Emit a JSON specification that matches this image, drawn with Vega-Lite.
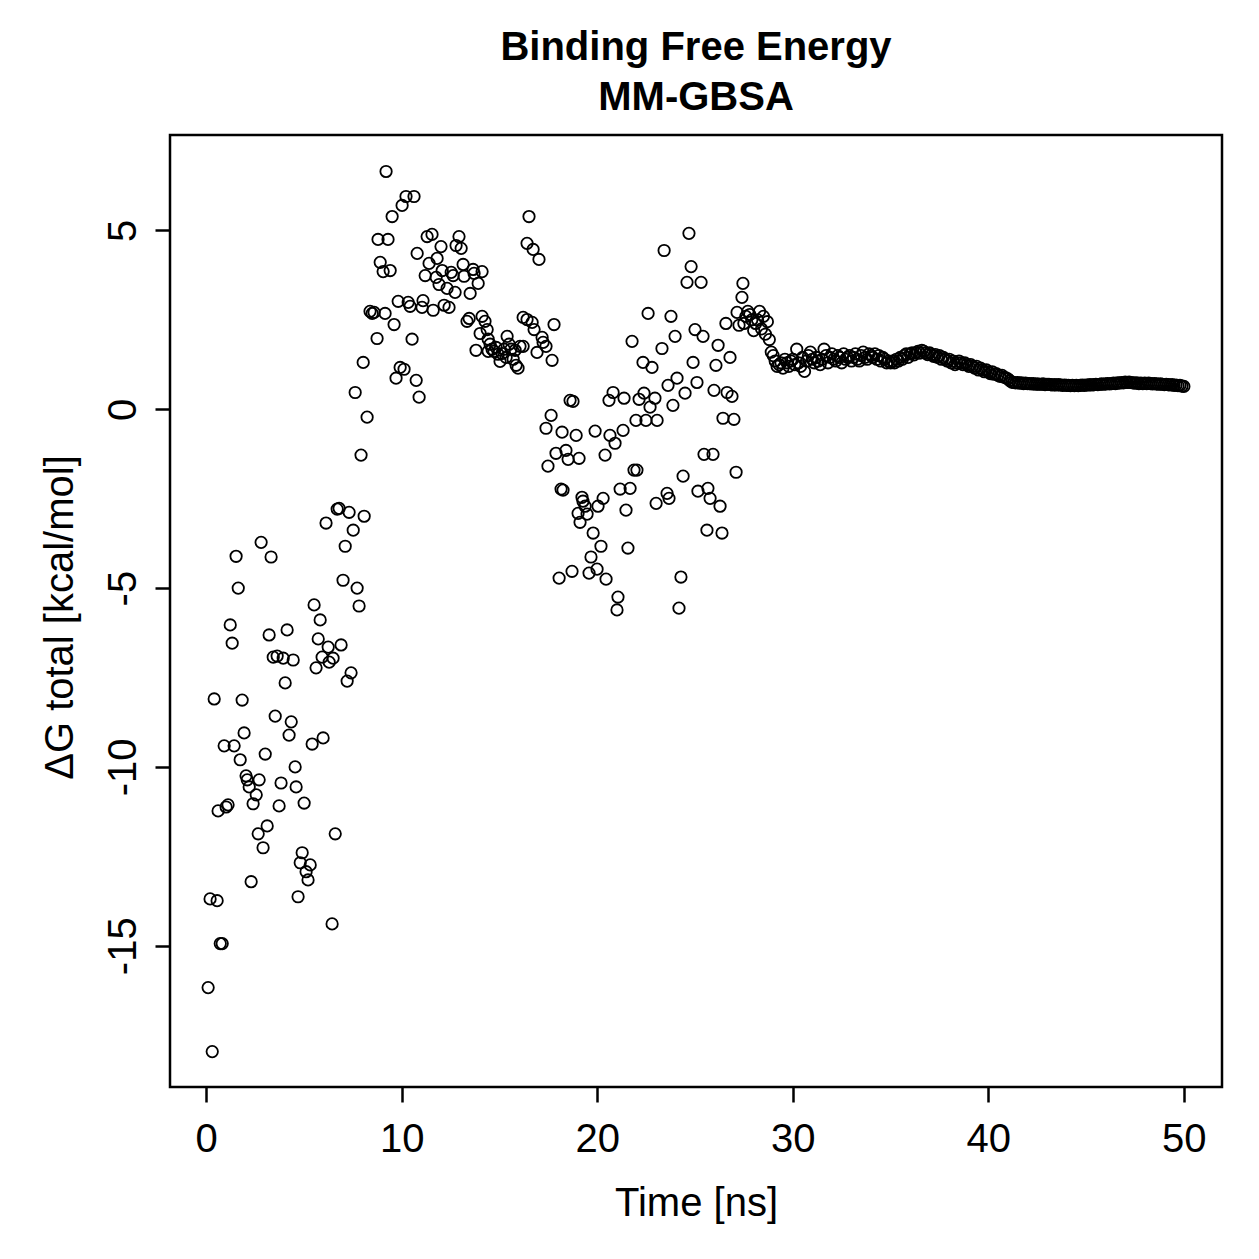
{
  "$schema": "https://vega.github.io/schema/vega-lite/v6.json",
  "width": 1052,
  "height": 952,
  "autosize": {"type": "none"},
  "padding": {"left": 170, "top": 135, "right": 37, "bottom": 172},
  "background": "white",
  "title": {
    "text": ["Binding Free Energy", "MM-GBSA"],
    "font": "Liberation Sans",
    "fontSize": 40,
    "fontWeight": "bold",
    "lineHeight": 50,
    "anchor": "middle",
    "color": "black",
    "offset": 17
  },
  "config": {
    "view": {"stroke": "black", "strokeWidth": 2.5},
    "axis": {
      "domain": false,
      "grid": false,
      "ticks": true,
      "tickColor": "black",
      "tickWidth": 2.5,
      "tickSize": 15,
      "labelFont": "Liberation Sans",
      "labelFontSize": 40,
      "labelColor": "black",
      "titleFont": "Liberation Sans",
      "titleFontSize": 40,
      "titleFontWeight": "normal",
      "titleColor": "black"
    }
  },
  "data": {
    "values": [
      {"t":0.10,"g":-16.17},{"t":0.31,"g":-17.96},{"t":0.20,"g":-13.69},{"t":0.56,"g":-13.74},{"t":0.41,"g":-8.10},
      {"t":0.61,"g":-11.23},{"t":0.72,"g":-14.94},{"t":0.82,"g":-14.94},{"t":0.92,"g":-9.41},{"t":1.02,"g":-11.12},
      {"t":1.12,"g":-11.06},{"t":1.23,"g":-6.03},{"t":1.33,"g":-6.54},{"t":1.43,"g":-9.41},{"t":1.53,"g":-4.11},
      {"t":1.64,"g":-5.00},{"t":1.74,"g":-9.80},{"t":1.84,"g":-8.13},{"t":1.94,"g":-9.05},{"t":2.04,"g":-10.25},
      {"t":2.10,"g":-10.36},{"t":2.20,"g":-10.56},{"t":2.56,"g":-10.78},{"t":2.40,"g":-11.03},{"t":2.71,"g":-10.36},
      {"t":2.30,"g":-13.21},{"t":2.66,"g":-11.87},{"t":2.81,"g":-3.72},{"t":2.91,"g":-12.26},{"t":3.02,"g":-9.64},
      {"t":3.12,"g":-11.65},{"t":3.22,"g":-6.31},{"t":3.32,"g":-4.13},{"t":3.43,"g":-6.93},{"t":3.53,"g":-8.58},
      {"t":3.63,"g":-6.90},{"t":3.73,"g":-11.09},{"t":3.83,"g":-10.45},{"t":3.94,"g":-6.96},{"t":4.04,"g":-7.65},
      {"t":4.14,"g":-6.17},{"t":4.24,"g":-9.11},{"t":4.35,"g":-8.74},{"t":4.45,"g":-7.01},{"t":4.55,"g":-10.00},
      {"t":4.60,"g":-10.56},{"t":4.70,"g":-13.63},{"t":4.81,"g":-12.68},{"t":4.91,"g":-12.40},{"t":5.01,"g":-11.01},
      {"t":5.11,"g":-12.93},{"t":5.21,"g":-13.16},{"t":5.32,"g":-12.74},{"t":5.42,"g":-9.36},{"t":5.52,"g":-5.47},
      {"t":5.62,"g":-7.23},{"t":5.73,"g":-6.42},{"t":5.83,"g":-5.89},{"t":5.93,"g":-6.93},{"t":5.98,"g":-9.19},
      {"t":6.13,"g":-3.18},{"t":6.24,"g":-6.65},{"t":6.29,"g":-7.07},{"t":6.44,"g":-14.39},{"t":6.49,"g":-6.96},
      {"t":6.60,"g":-11.87},{"t":6.70,"g":-2.79},{"t":6.80,"g":-2.77},{"t":6.90,"g":-6.59},{"t":7.00,"g":-4.78},
      {"t":7.11,"g":-3.83},{"t":7.21,"g":-7.60},{"t":7.31,"g":-2.88},{"t":7.41,"g":-7.37},{"t":7.52,"g":-3.38},
      {"t":7.62,"g":0.47},{"t":7.72,"g":-5.00},{"t":7.82,"g":-5.50},{"t":7.92,"g":-1.28},{"t":8.03,"g":1.31},
      {"t":8.08,"g":-2.99},{"t":8.23,"g":-0.22},{"t":8.38,"g":2.74},{"t":8.49,"g":2.68},{"t":8.59,"g":2.71},
      {"t":8.74,"g":1.98},{"t":8.79,"g":4.75},{"t":8.90,"g":4.11},{"t":9.05,"g":3.85},{"t":9.15,"g":2.68},
      {"t":9.20,"g":6.65},{"t":9.30,"g":4.75},{"t":9.41,"g":3.88},{"t":9.51,"g":5.39},{"t":9.61,"g":2.37},
      {"t":9.71,"g":0.87},{"t":9.82,"g":3.02},{"t":9.92,"g":1.17},{"t":10.02,"g":5.70},{"t":10.12,"g":1.12},
      {"t":10.22,"g":5.95},{"t":10.33,"g":2.99},{"t":10.43,"g":2.88},{"t":10.53,"g":1.96},{"t":10.63,"g":5.95},
      {"t":10.74,"g":0.81},{"t":10.79,"g":4.36},{"t":10.89,"g":0.34},{"t":11.04,"g":2.85},{"t":11.09,"g":3.04},
      {"t":11.20,"g":3.74},{"t":11.30,"g":4.83},{"t":11.40,"g":4.08},{"t":11.55,"g":4.89},{"t":11.61,"g":2.77},
      {"t":11.76,"g":3.69},{"t":11.81,"g":4.22},{"t":11.91,"g":3.49},{"t":12.01,"g":4.55},{"t":12.07,"g":3.88},
      {"t":12.17,"g":2.91},{"t":12.32,"g":3.38},{"t":12.42,"g":2.85},{"t":12.53,"g":3.83},{"t":12.63,"g":3.74},
      {"t":12.73,"g":3.27},{"t":12.78,"g":4.58},{"t":12.93,"g":4.83},{"t":13.04,"g":4.50},{"t":13.14,"g":4.05},
      {"t":13.19,"g":3.72},{"t":13.34,"g":2.46},{"t":13.45,"g":2.54},{"t":13.50,"g":3.24},{"t":13.65,"g":3.91},
      {"t":13.70,"g":3.80},{"t":13.80,"g":1.65},{"t":13.91,"g":3.52},{"t":14.01,"g":2.12},{"t":14.11,"g":3.85},
      {"t":14.11,"g":2.60},{"t":14.26,"g":2.46},{"t":14.37,"g":2.23},{"t":14.42,"g":1.96},{"t":14.42,"g":1.62},
      {"t":14.52,"g":1.82},{"t":14.62,"g":1.68},{"t":14.72,"g":1.62},{"t":14.83,"g":1.73},{"t":14.93,"g":1.54},
      {"t":15.03,"g":1.34},{"t":15.13,"g":1.56},{"t":15.24,"g":1.68},{"t":15.34,"g":1.45},{"t":15.39,"g":2.04},
      {"t":15.49,"g":1.82},{"t":15.59,"g":1.68},{"t":15.70,"g":1.40},{"t":15.80,"g":1.65},{"t":15.85,"g":1.23},
      {"t":15.95,"g":1.15},{"t":16.05,"g":1.76},{"t":16.21,"g":2.57},{"t":16.21,"g":1.76},{"t":16.41,"g":2.51},
      {"t":16.41,"g":4.64},{"t":16.51,"g":5.39},{"t":16.67,"g":2.43},{"t":16.72,"g":4.47},{"t":16.77,"g":2.23},
      {"t":16.92,"g":1.59},{"t":17.02,"g":4.19},{"t":17.18,"g":2.01},{"t":17.23,"g":1.87},{"t":17.38,"g":1.76},
      {"t":17.38,"g":-0.53},{"t":17.48,"g":-1.59},{"t":17.64,"g":-0.17},{"t":17.69,"g":1.37},{"t":17.79,"g":2.37},
      {"t":17.89,"g":-1.23},{"t":18.05,"g":-4.72},{"t":18.15,"g":-2.23},{"t":18.20,"g":-0.64},{"t":18.25,"g":-2.26},
      {"t":18.40,"g":-1.15},{"t":18.51,"g":-1.40},{"t":18.61,"g":0.25},{"t":18.71,"g":-4.53},{"t":18.76,"g":0.22},
      {"t":18.92,"g":-0.73},{"t":19.02,"g":-2.91},{"t":19.07,"g":-1.37},{"t":19.12,"g":-3.16},{"t":19.22,"g":-2.46},
      {"t":19.27,"g":-2.57},{"t":19.38,"g":-2.71},{"t":19.48,"g":-2.93},{"t":19.58,"g":-4.58},{"t":19.68,"g":-4.13},
      {"t":19.79,"g":-3.46},{"t":19.89,"g":-0.61},{"t":19.99,"g":-4.47},{"t":20.04,"g":-2.71},{"t":20.19,"g":-3.83},
      {"t":20.30,"g":-2.49},{"t":20.40,"g":-1.28},{"t":20.45,"g":-4.75},{"t":20.60,"g":0.25},{"t":20.65,"g":-0.73},
      {"t":20.81,"g":0.47},{"t":20.91,"g":-0.95},{"t":21.01,"g":-5.61},{"t":21.06,"g":-5.25},{"t":21.17,"g":-2.23},
      {"t":21.32,"g":-0.59},{"t":21.37,"g":0.31},{"t":21.47,"g":-2.82},{"t":21.57,"g":-3.88},{"t":21.68,"g":-2.21},
      {"t":21.78,"g":1.90},{"t":21.88,"g":-1.70},{"t":21.98,"g":-0.31},{"t":22.03,"g":-1.70},{"t":22.14,"g":0.28},
      {"t":22.34,"g":1.31},{"t":22.39,"g":0.45},{"t":22.49,"g":-0.31},{"t":22.60,"g":2.68},{"t":22.70,"g":0.06},
      {"t":22.80,"g":1.17},{"t":22.95,"g":0.31},{"t":23.01,"g":-2.63},{"t":23.06,"g":-0.31},{"t":23.31,"g":1.70},
      {"t":23.42,"g":4.44},{"t":23.57,"g":-2.35},{"t":23.62,"g":0.67},{"t":23.67,"g":-2.49},{"t":23.77,"g":2.60},
      {"t":23.87,"g":0.11},{"t":23.98,"g":2.04},{"t":24.08,"g":0.87},{"t":24.18,"g":-5.56},{"t":24.28,"g":-4.69},
      {"t":24.39,"g":-1.87},{"t":24.49,"g":0.45},{"t":24.59,"g":3.55},{"t":24.69,"g":4.92},{"t":24.80,"g":3.99},
      {"t":24.90,"g":1.31},{"t":25.00,"g":2.23},{"t":25.10,"g":0.75},{"t":25.15,"g":-2.29},{"t":25.31,"g":3.55},
      {"t":25.41,"g":2.04},{"t":25.46,"g":-1.26},{"t":25.61,"g":-3.38},{"t":25.66,"g":-2.21},{"t":25.77,"g":-2.49},
      {"t":25.92,"g":-1.26},{"t":25.97,"g":0.53},{"t":26.07,"g":1.23},{"t":26.18,"g":1.79},{"t":26.28,"g":-2.71},
      {"t":26.38,"g":-3.46},{"t":26.43,"g":-0.25},{"t":26.58,"g":2.40},{"t":26.64,"g":0.47},{"t":26.79,"g":1.45},
      {"t":26.89,"g":0.36},{"t":26.99,"g":-0.28},{"t":27.10,"g":-1.76},{"t":27.15,"g":2.71},{"t":27.25,"g":2.35},
      {"t":27.40,"g":3.13},{"t":27.45,"g":3.52},
      {"t":27.5,"g":2.40},{"t":27.6,"g":2.60},{"t":27.7,"g":2.74},{"t":27.8,"g":2.65},{"t":27.9,"g":2.50},
      {"t":28.0,"g":2.20},{"t":28.1,"g":2.40},{"t":28.2,"g":2.50},{"t":28.3,"g":2.74},{"t":28.4,"g":2.25},
      {"t":28.5,"g":2.60},{"t":28.6,"g":2.10},{"t":28.7,"g":2.45},{"t":28.8,"g":1.95},{"t":28.9,"g":1.60},
      {"t":29.0,"g":1.50},{"t":29.1,"g":1.35},{"t":29.2,"g":1.20},{"t":29.3,"g":1.25},{"t":29.4,"g":1.30},
      {"t":29.5,"g":1.15},{"t":29.6,"g":1.40},{"t":29.7,"g":1.30},{"t":29.8,"g":1.20},{"t":29.9,"g":1.35},
      {"t":30.0,"g":1.40},{"t":30.1,"g":1.25},{"t":30.2,"g":1.68},{"t":30.3,"g":1.30},{"t":30.4,"g":1.20},
      {"t":30.5,"g":1.45},{"t":30.6,"g":1.06},{"t":30.7,"g":1.35},{"t":30.8,"g":1.50},{"t":30.9,"g":1.60},
      {"t":31.0,"g":1.40},{"t":31.1,"g":1.30},{"t":31.2,"g":1.45},{"t":31.3,"g":1.35},{"t":31.4,"g":1.25},
      {"t":31.5,"g":1.40},{"t":31.6,"g":1.68},{"t":31.7,"g":1.50},{"t":31.8,"g":1.30},{"t":31.9,"g":1.45},
      {"t":32.0,"g":1.55},{"t":32.1,"g":1.40},{"t":32.2,"g":1.35},{"t":32.3,"g":1.50},{"t":32.4,"g":1.45},
      {"t":32.5,"g":1.30},{"t":32.6,"g":1.55},{"t":32.7,"g":1.40},{"t":32.8,"g":1.45},{"t":32.9,"g":1.50},
      {"t":33.0,"g":1.35},{"t":33.1,"g":1.45},{"t":33.2,"g":1.55},{"t":33.3,"g":1.40},{"t":33.4,"g":1.35},
      {"t":33.5,"g":1.50},{"t":33.6,"g":1.60},{"t":33.7,"g":1.45},{"t":33.8,"g":1.40},{"t":33.9,"g":1.55},
      {"t":34.0,"g":1.50},{"t":34.1,"g":1.45},{"t":34.2,"g":1.55},{"t":34.3,"g":1.40},{"t":34.4,"g":1.50},
      {"t":34.5,"g":1.35},{"t":34.6,"g":1.45},{"t":34.7,"g":1.40},{"t":34.8,"g":1.30},{"t":34.9,"g":1.35},
      {"t":35.0,"g":1.30},{"t":35.1,"g":1.35},{"t":35.2,"g":1.30},{"t":35.3,"g":1.40},{"t":35.4,"g":1.35},
      {"t":35.5,"g":1.45},{"t":35.6,"g":1.40},{"t":35.7,"g":1.50},{"t":35.8,"g":1.55},{"t":35.9,"g":1.45},
      {"t":36.0,"g":1.55},{"t":36.1,"g":1.58},{"t":36.2,"g":1.52},{"t":36.3,"g":1.58},{"t":36.4,"g":1.62},
      {"t":36.5,"g":1.57},{"t":36.6,"g":1.65},{"t":36.7,"g":1.62},{"t":36.8,"g":1.57},{"t":36.9,"g":1.53},
      {"t":37.0,"g":1.58},{"t":37.1,"g":1.53},{"t":37.2,"g":1.48},{"t":37.3,"g":1.53},{"t":37.4,"g":1.45},
      {"t":37.5,"g":1.50},{"t":37.6,"g":1.40},{"t":37.7,"g":1.45},{"t":37.8,"g":1.40},{"t":37.9,"g":1.35},
      {"t":38.0,"g":1.40},{"t":38.1,"g":1.30},{"t":38.2,"g":1.35},{"t":38.3,"g":1.25},{"t":38.4,"g":1.30},
      {"t":38.5,"g":1.35},{"t":38.6,"g":1.30},{"t":38.7,"g":1.25},{"t":38.8,"g":1.30},{"t":38.9,"g":1.25},
      {"t":39.0,"g":1.20},{"t":39.1,"g":1.25},{"t":39.2,"g":1.20},{"t":39.3,"g":1.15},{"t":39.4,"g":1.20},
      {"t":39.5,"g":1.10},{"t":39.6,"g":1.15},{"t":39.7,"g":1.10},{"t":39.8,"g":1.05},{"t":39.9,"g":1.10},
      {"t":40.0,"g":1.05},{"t":40.1,"g":1.00},{"t":40.2,"g":1.05},{"t":40.3,"g":0.98},{"t":40.4,"g":1.00},
      {"t":40.5,"g":0.95},{"t":40.6,"g":0.92},{"t":40.7,"g":0.95},{"t":40.8,"g":0.90},{"t":40.9,"g":0.88},
      {"t":41.0,"g":0.85},{"t":41.1,"g":0.80},{"t":41.2,"g":0.76},{"t":41.3,"g":0.75},{"t":41.4,"g":0.74},
      {"t":41.5,"g":0.75},{"t":41.6,"g":0.73},{"t":41.7,"g":0.74},{"t":41.8,"g":0.72},{"t":41.9,"g":0.73},
      {"t":42.0,"g":0.72},{"t":42.1,"g":0.72},{"t":42.2,"g":0.71},{"t":42.3,"g":0.72},{"t":42.4,"g":0.70},
      {"t":42.5,"g":0.71},{"t":42.6,"g":0.70},{"t":42.7,"g":0.70},{"t":42.8,"g":0.71},{"t":42.9,"g":0.69},
      {"t":43.0,"g":0.70},{"t":43.1,"g":0.70},{"t":43.2,"g":0.69},{"t":43.3,"g":0.68},{"t":43.4,"g":0.69},
      {"t":43.5,"g":0.68},{"t":43.6,"g":0.69},{"t":43.7,"g":0.68},{"t":43.8,"g":0.67},{"t":43.9,"g":0.68},
      {"t":44.0,"g":0.67},{"t":44.1,"g":0.67},{"t":44.2,"g":0.66},{"t":44.3,"g":0.67},{"t":44.4,"g":0.66},
      {"t":44.5,"g":0.67},{"t":44.6,"g":0.66},{"t":44.7,"g":0.67},{"t":44.8,"g":0.68},{"t":44.9,"g":0.67},
      {"t":45.0,"g":0.68},{"t":45.1,"g":0.68},{"t":45.2,"g":0.69},{"t":45.3,"g":0.68},{"t":45.4,"g":0.69},
      {"t":45.5,"g":0.70},{"t":45.6,"g":0.69},{"t":45.7,"g":0.70},{"t":45.8,"g":0.71},{"t":45.9,"g":0.70},
      {"t":46.0,"g":0.71},{"t":46.1,"g":0.72},{"t":46.2,"g":0.71},{"t":46.3,"g":0.72},{"t":46.4,"g":0.73},
      {"t":46.5,"g":0.72},{"t":46.6,"g":0.74},{"t":46.7,"g":0.73},{"t":46.8,"g":0.75},{"t":46.9,"g":0.74},
      {"t":47.0,"g":0.76},{"t":47.1,"g":0.75},{"t":47.2,"g":0.76},{"t":47.3,"g":0.75},{"t":47.4,"g":0.74},
      {"t":47.5,"g":0.73},{"t":47.6,"g":0.74},{"t":47.7,"g":0.72},{"t":47.8,"g":0.73},{"t":47.9,"g":0.72},
      {"t":48.0,"g":0.73},{"t":48.1,"g":0.72},{"t":48.2,"g":0.73},{"t":48.3,"g":0.72},{"t":48.4,"g":0.71},
      {"t":48.5,"g":0.72},{"t":48.6,"g":0.71},{"t":48.7,"g":0.70},{"t":48.8,"g":0.71},{"t":48.9,"g":0.70},
      {"t":49.0,"g":0.69},{"t":49.1,"g":0.70},{"t":49.2,"g":0.69},{"t":49.3,"g":0.68},{"t":49.4,"g":0.69},
      {"t":49.5,"g":0.67},{"t":49.6,"g":0.68},{"t":49.7,"g":0.66},{"t":49.8,"g":0.67},{"t":49.9,"g":0.65},
      {"t":50.0,"g":0.64}
    ]
  },
  "mark": {
    "type": "point",
    "shape": "circle",
    "filled": false,
    "size": 130,
    "strokeWidth": 1.8,
    "color": "black",
    "opacity": 1
  },
  "encoding": {
    "x": {
      "field": "t",
      "type": "quantitative",
      "scale": {"domain": [-1.85, 51.95], "nice": false, "zero": false},
      "axis": {
        "values": [0, 10, 20, 30, 40, 50],
        "labelExpr": "'' + datum.value",
        "title": "Time [ns]",
        "labelPadding": 17,
        "labelFlush": false,
        "titleBaseline": "alphabetic",
        "titleY": 128
      }
    },
    "y": {
      "field": "g",
      "type": "quantitative",
      "scale": {"domain": [-18.95, 7.67], "nice": false, "zero": false},
      "axis": {
        "values": [-15, -10, -5, 0, 5],
        "labelExpr": "'' + datum.value",
        "title": "ΔG total [kcal/mol]",
        "labelAngle": 270,
        "labelAlign": "center",
        "labelBaseline": "alphabetic",
        "labelPadding": 20,
        "labelFlush": false,
        "titleAngle": 270,
        "titleAlign": "center",
        "titleBaseline": "alphabetic",
        "titleX": -98,
        "titleY": 482
      }
    }
  }
}
